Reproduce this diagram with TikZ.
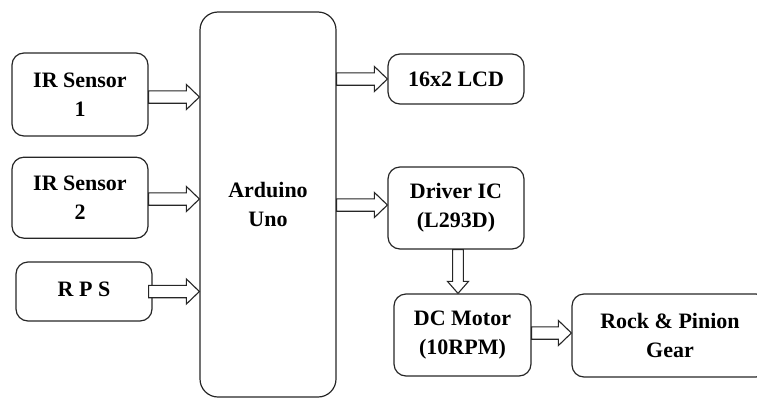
\documentclass[tikz,border=0pt]{standalone}
\usepackage{fontspec}
\setmainfont{Liberation Serif}
\usetikzlibrary{calc}
\tikzset{
  box/.style={draw=black!85, line width=1.2pt, rounded corners=12pt, align=center,
    font=\fontsize{22}{29}\selectfont\bfseries, inner sep=0pt},
  blockarrow/.style={draw=black!85, line width=1.1pt, fill=white, line join=miter}
}
\newcommand\harrow[2]{\draw[blockarrow] let \p1=(#1), \p2=(#2) in
  (\x1,\y1+6.2pt) -- (\x2-13pt,\y1+6.2pt) -- (\x2-13pt,\y1+12.5pt) -- (\x2,\y1)
  -- (\x2-13pt,\y1-12.5pt) -- (\x2-13pt,\y1-6.2pt) -- (\x1,\y1-6.2pt) -- cycle;}
\newcommand\varrow[2]{\draw[blockarrow] let \p1=(#1), \p2=(#2) in
  (\x1-5.4pt,\y1) -- (\x1-5.4pt,\y2+12pt) -- (\x1-10.5pt,\y2+12pt) -- (\x1,\y2)
  -- (\x1+10.5pt,\y2+12pt) -- (\x1+5.4pt,\y2+12pt) -- (\x1+5.4pt,\y1) -- cycle;}
\begin{document}
\begin{tikzpicture}[x=1pt,y=-1pt]
\useasboundingbox (0,0) rectangle (757,399);
\clip (0,0) rectangle (757,399);
\node[box, minimum width=136pt, minimum height=83pt] (ir1) at (80,94.5) {IR Sensor\\1};
\node[box, minimum width=136pt, minimum height=81pt] (ir2) at (80,197.7) {IR Sensor\\2};
\node[box, minimum width=136pt, minimum height=59pt] (rps) at (84,291.5) {\raisebox{5pt}{R P S}};
\node[box, rounded corners=18pt, minimum width=136pt, minimum height=385pt] (ard) at (268,204.5) {Arduino\\Uno};
\node[box, minimum width=136pt, minimum height=50pt] (lcd) at (456,79) {16x2 LCD};
\node[box, minimum width=136pt, minimum height=82pt] (drv) at (456,208) {Driver IC\\(L293D)};
\node[box, minimum width=137pt, minimum height=82pt] (dcm) at (462.5,335) {DC Motor\\(10RPM)};
\node[box, minimum width=196pt, minimum height=83pt] (rck) at (670,335.5) {Rock \& Pinion\\Gear};
\harrow{$(ir1.east)+(0,2.5)$}{ard.west}
\harrow{$(ir2.east)+(0,1.3)$}{ard.west}
\harrow{$(rps.east)+(-4,0)$}{ard.west}
\harrow{ard.east |- lcd.west}{lcd.west}
\harrow{$(ard.east |- drv.west)+(0,-3)$}{drv.west}
\harrow{$(dcm.east)+(0,-2)$}{rck.west}
\varrow{$(drv.south)+(2,0)$}{dcm.north}
\end{tikzpicture}
\end{document}
